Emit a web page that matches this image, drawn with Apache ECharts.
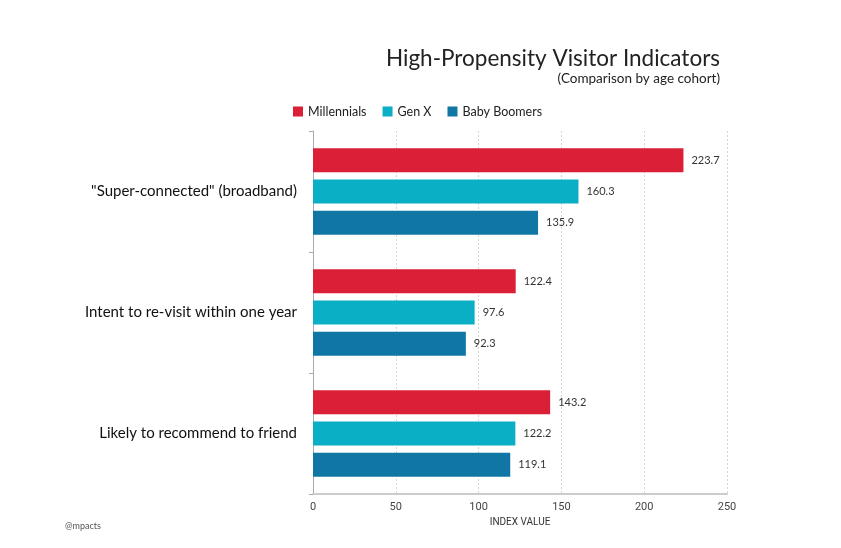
<!DOCTYPE html>
<html>
<head>
    <meta charset="utf-8">
    <title>High-Propensity Visitor Indicators</title>
    <script src="https://cdn.jsdelivr.net/npm/echarts@6/dist/echarts.min.js"></script>
    <style>
        html, body { margin: 0; padding: 0; background: #fff; }
        #main { width: 841px; height: 548px; }
    </style>
</head>
<body>
<div id="main"></div>
<script>
    // data
    var categories = ['"Super-connected" (broadband)', 'Intent to re-visit within one year', 'Likely to recommend to friend'];
    var millennials = [223.7, 122.4, 143.2];
    var genX = [160.3, 97.6, 122.2];
    var babyBoomers = [135.9, 92.3, 119.1];
    var seriesNames = ['Millennials', 'Gen X', 'Baby Boomers'];
    var colors = ['#db1f36', '#0aaec5', '#1077a4'];

    var chart = echarts.init(document.getElementById('main'));

    function makeSeries(name, data, color) {
        return {
            name: name,
            type: 'bar',
            data: data,
            barWidth: 24,
            barGap: '30%',
            itemStyle: {color: color},
            label: {
                show: true,
                position: 'right',
                distance: 8,
                color: '#333',
                fontSize: 11,
                fontFamily: 'Lato',
                formatter: function (p) { return p.value.toFixed(1); }
            }
        };
    }

    chart.setOption({
        animation: false,
        textStyle: {fontFamily: 'Lato'},
        title: [
            {
                text: 'High-Propensity Visitor Indicators',
                right: 116,
                top: 42,
                textStyle: {fontSize: 22.5, fontWeight: 'normal', color: '#222', fontFamily: 'Lato'}
            },
            {
                text: '(Comparison by age cohort)',
                right: 116,
                top: 67,
                textStyle: {fontSize: 13.5, fontWeight: 'normal', color: '#222', fontFamily: 'Lato'}
            },
            {
                text: '@mpacts',
                left: 60,
                top: 517,
                textStyle: {fontSize: 9, fontWeight: 'normal', color: '#555', fontFamily: 'Lato'}
            }
        ],
        legend: {
            left: 288,
            top: 100,
            itemWidth: 10,
            itemHeight: 10,
            itemGap: 16,
            icon: 'rect',
            textStyle: {fontSize: 12.5, color: '#222', fontFamily: 'Lato'},
            data: seriesNames
        },
        grid: {left: 313, right: 114, top: 131, bottom: 54},
        xAxis: {
            type: 'value',
            min: 0,
            max: 250,
            interval: 50,
            name: 'INDEX VALUE',
            nameLocation: 'middle',
            nameGap: 20,
            nameTextStyle: {fontSize: 10, color: '#333', fontFamily: 'Roboto'},
            axisLine: {show: true, lineStyle: {color: '#ccc', width: 2}},
            axisTick: {show: false},
            axisLabel: {fontSize: 11, color: '#444', margin: 8, fontFamily: 'Roboto'},
            splitLine: {show: true, lineStyle: {color: '#d4d4d4', type: [2, 2], width: 1}}
        },
        yAxis: {
            type: 'category',
            data: categories,
            inverse: true,
            axisLine: {show: true, lineStyle: {color: '#aaa'}},
            axisTick: {show: true, length: 4, lineStyle: {color: '#aaa'}},
            axisLabel: {fontSize: 15, color: '#111', margin: 16, fontFamily: 'Lato'}
        },
        series: [
            makeSeries(seriesNames[0], millennials, colors[0]),
            makeSeries(seriesNames[1], genX, colors[1]),
            makeSeries(seriesNames[2], babyBoomers, colors[2])
        ]
    });
</script>
</body>
</html>
